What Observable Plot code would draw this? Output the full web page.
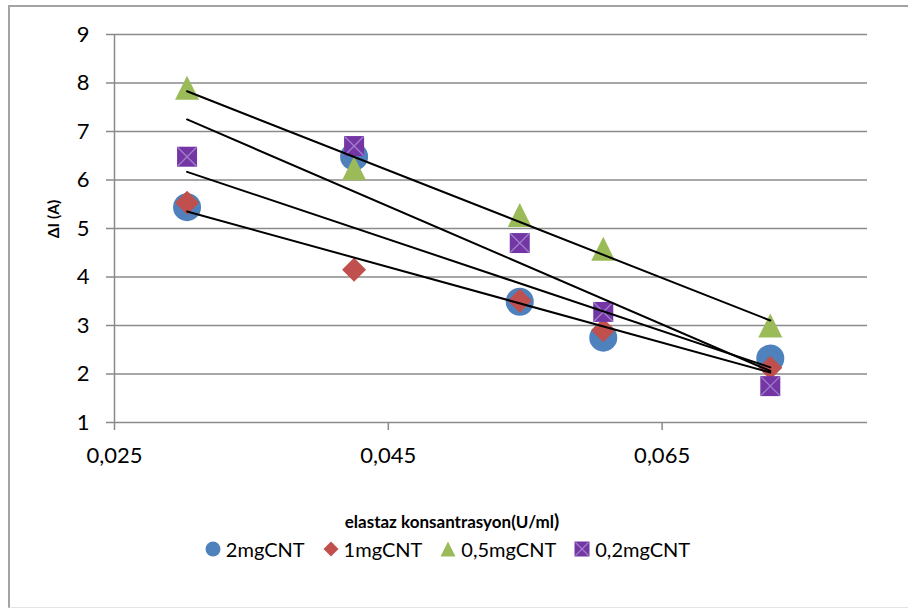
<!DOCTYPE html>
<html>
<head>
<meta charset="utf-8">
<script src="https://cdn.jsdelivr.net/npm/d3@7"></script>
<script src="https://cdn.jsdelivr.net/npm/@observablehq/plot@0.6"></script>
<style>
  html, body { margin: 0; padding: 0; background: #fff; }
  #wrap { position: relative; width: 908px; height: 609px; overflow: hidden; background: #fff; font-family: Lato, "Open Sans", sans-serif; }
  #frame { position: absolute; left: 8px; top: 5px; width: 930px; height: 600px;
           border-left: 2px solid #a3a3a3; border-top: 2px solid #a3a3a3; border-bottom: 1px solid #e4e4e4; }
  #chart { position: absolute; left: 0; top: 0; }
  #ytitle { position: absolute; left: 53px; top: 219px; transform: translate(-50%, -50%) rotate(-90deg);
            font-weight: bold; font-size: 15.5px; line-height: 16px; white-space: nowrap; color: #000; }
  #xtitle { position: absolute; left: 0; width: 904px; top: 513px; text-align: center;
            font-weight: bold; font-size: 17px; line-height: 16px; color: #000; }
  #xtitle .paren { font-size: 19px; }
  #legend { position: absolute; left: 0; width: 895px; top: 539px; display: flex; justify-content: center;
            font-size: 20px; line-height: 20px; color: #000; }
  #legend .item { display: flex; align-items: center; margin: 0 9px; }
  #legend svg { margin-right: 5px; }
</style>
</head>
<body>
<div id="wrap">
  <div id="frame"></div>
  <div id="chart"></div>
  <div id="ytitle">ΔI (A)</div>
  <div id="xtitle">elastaz konsantrasyon(U/ml<span class="paren">)</span></div>
  <div id="legend"></div>
</div>
<script>
// Elastase concentration (U/ml) for each measurement
const concentrations = [0.0303, 0.0425, 0.0546, 0.0607, 0.0729];

// Current change ΔI (A) for each CNT loading
const seriesNames = ["2mgCNT", "1mgCNT", "0,5mgCNT", "0,2mgCNT"];
const cnt2mg  = [5.44, 6.48, 3.49, 2.75, 2.32];
const cnt1mg  = [5.53, 4.15, 3.51, 2.90, 2.13];
const cnt05mg = [7.90, 6.24, 5.28, 4.58, 3.00];
const cnt02mg = [6.48, 6.70, 4.70, 3.28, 1.75];

// Axis ticks and ranges
const yTicks = [1, 2, 3, 4, 5, 6, 7, 8, 9];
const xTicks = [0.025, 0.045, 0.065];
const xDomain = [0.025, 0.08];
const yDomain = [1, 9];

const colors = ["#4F81BD", "#C0504D", "#9BBB59", "#7435A5"];
const crossColor = "#A07FCC";
const gridColor = "#8a8a8a";

// Marker shapes; the radius r passed to the dot mark is the half-width of the shape
const half = size => Math.sqrt(size / Math.PI);
const circleSym = { draw(ctx, size) { const h = half(size); ctx.moveTo(h, 0); ctx.arc(0, 0, h, 0, 2 * Math.PI); } };
const diamondSym = { draw(ctx, size) { const h = half(size); ctx.moveTo(0, -h); ctx.lineTo(h, 0); ctx.lineTo(0, h); ctx.lineTo(-h, 0); ctx.closePath(); } };
const triangleSym = { draw(ctx, size) { const h = half(size); ctx.moveTo(0, -h); ctx.lineTo(h, h); ctx.lineTo(-h, h); ctx.closePath(); } };
const squareSym = { draw(ctx, size) { const h = half(size); ctx.rect(-h, -h, 2 * h, 2 * h); } };
const xSym = { draw(ctx, size) { const h = half(size); ctx.moveTo(-h, -h); ctx.lineTo(h, h); ctx.moveTo(-h, h); ctx.lineTo(h, -h); } };

const seriesValues = [cnt2mg, cnt1mg, cnt05mg, cnt02mg];
const symbols = [circleSym, diamondSym, triangleSym, squareSym];
const radii = [14, 12, 12, 10];

const rows = seriesNames.flatMap((name, i) =>
  concentrations.map((c, j) => ({ series: name, x: c, y: seriesValues[i][j] }))
);

const dotMarks = seriesNames.map((name, i) =>
  Plot.dot(rows.filter(d => d.series === name), {
    x: "x", y: "y", symbol: symbols[i], r: radii[i], fill: colors[i], stroke: "none"
  })
);
// light diagonal cross drawn inside the 0,2mgCNT squares
const crossMark = Plot.dot(rows.filter(d => d.series === seriesNames[3]), {
  x: "x", y: "y", symbol: xSym, r: 9.5, fill: "none", stroke: crossColor, strokeWidth: 1.3
});

const chart = Plot.plot({
  width: 908,
  height: 470,
  marginLeft: 114,
  marginRight: 41,
  marginTop: 34,
  marginBottom: 48,
  style: { fontFamily: "Lato, 'Open Sans', sans-serif", fontSize: "22px", background: "transparent", color: "#000" },
  x: { domain: xDomain },
  y: { domain: yDomain },
  marks: [
    Plot.gridY(yTicks, { stroke: gridColor, strokeOpacity: 1, strokeWidth: 1.5 }),
    Plot.ruleX([xDomain[0]], { y1: yDomain[0], y2: yDomain[1], stroke: gridColor, strokeWidth: 1.5 }),
    Plot.axisY(yTicks, {
      tickSize: 8, tickPadding: 17, fontSize: 22, stroke: gridColor, strokeWidth: 1.5, fill: "#000",
      label: null, tickFormat: d => String(d)
    }),
    Plot.axisX(xTicks, {
      tickSize: 8, tickPadding: 17, fontSize: 22, stroke: gridColor, strokeWidth: 1.5, fill: "#000",
      label: null, tickFormat: d => d.toFixed(3).replace(".", ",")
    }),
    ...dotMarks,
    crossMark,
    Plot.linearRegressionY(rows, { x: "x", y: "y", z: "series", stroke: "#000", strokeWidth: 2, ci: 0 })
  ]
});
document.getElementById("chart").appendChild(chart);

// Legend below the chart
const legend = d3.select("#legend");
seriesNames.forEach((name, i) => {
  const item = legend.append("div").attr("class", "item");
  const svg = item.append("svg").attr("width", 16).attr("height", 16).attr("viewBox", "-8 -8 16 16");
  svg.append("path")
    .attr("d", d3.symbol().type(symbols[i]).size(Math.PI * 7.5 * 7.5)())
    .attr("fill", colors[i]);
  if (i === 3) {
    svg.append("path")
      .attr("d", d3.symbol().type(xSym).size(Math.PI * 6.5 * 6.5)())
      .attr("fill", "none").attr("stroke", crossColor).attr("stroke-width", 1.2);
  }
  item.append("span").text(name);
});
</script>
</body>
</html>
